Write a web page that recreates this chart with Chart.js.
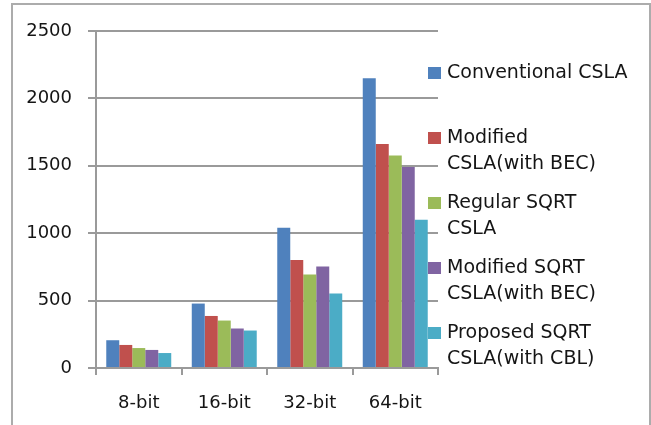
<!DOCTYPE html>
<html>
<head>
<meta charset="utf-8">
<script src="https://cdn.jsdelivr.net/npm/chart.js@4/dist/chart.umd.min.js"></script>
<style>
  html, body { margin: 0; padding: 0; background: #fff; }
  #wrap { position: relative; width: 651px; height: 425px; overflow: hidden; }
  #frame { position: absolute; left: 11px; top: 3px; width: 640px; height: 440px; border: 2px solid #acacac; box-sizing: border-box; }
  canvas { position: absolute; left: 0; top: 0; }
</style>
</head>
<body>
<div id="wrap">
  <div id="frame"></div>
  <canvas id="c" width="651" height="425"></canvas>
</div>
<script>
const categories = ['8-bit', '16-bit', '32-bit', '64-bit'];
const conventionalCSLA = [206, 478, 1040, 2149];
const modifiedCSLA = [171, 386, 802, 1661];
const regularSQRT = [148, 352, 693, 1577];
const modifiedSQRT = [134, 293, 753, 1492];
const proposedSQRT = [111, 278, 552, 1099];
const yTickValues = [0, 500, 1000, 1500, 2000, 2500];
const seriesNames = [
  ['Conventional CSLA'],
  ['Modified', 'CSLA(with BEC)'],
  ['Regular SQRT', 'CSLA'],
  ['Modified SQRT', 'CSLA(with BEC)'],
  ['Proposed SQRT', 'CSLA(with CBL)']
];
const colors = ['#4F81BD', '#C0504D', '#9BBB59', '#8064A2', '#4BACC6'];
const seriesData = [conventionalCSLA, modifiedCSLA, regularSQRT, modifiedSQRT, proposedSQRT];

const FONT = '"DejaVu Sans", sans-serif';
const TEXT = '#151515';
const GRID = '#9a9a9a';

const legendPlugin = {
  id: 'customLegend',
  afterDraw(chart) {
    const ctx = chart.ctx;
    ctx.save();
    ctx.font = '19px ' + FONT;
    ctx.textBaseline = 'middle';
    ctx.textAlign = 'left';
    const x0 = 428, tx = 447;
    const firstY = 73, itemGap = 65, lineGap = 26;
    chart.data.datasets.forEach((ds, i) => {
      const y = firstY + i * itemGap;
      ctx.fillStyle = ds.backgroundColor;
      ctx.fillRect(x0, y - 6, 13, 12);
      ctx.fillStyle = TEXT;
      ds.legendLines.forEach((ln, j) => ctx.fillText(ln, tx, y + j * lineGap));
    });
    ctx.restore();
  }
};

new Chart(document.getElementById('c'), {
  type: 'bar',
  data: {
    labels: categories,
    datasets: seriesData.map((d, i) => ({
      label: seriesNames[i].join(' '),
      legendLines: seriesNames[i],
      data: d,
      backgroundColor: colors[i],
      borderWidth: 0,
      categoryPercentage: 0.76,
      barPercentage: 1.0
    }))
  },
  options: {
    responsive: false,
    animation: false,
    devicePixelRatio: 1,
    layout: { padding: { left: 0, right: 213, top: 31, bottom: 0 } },
    plugins: { legend: { display: false }, tooltip: { enabled: false } },
    scales: {
      x: {
        afterFit: s => { s.height = 57; },
        grid: { display: true, drawOnChartArea: false, drawTicks: true, tickLength: 7, color: GRID, lineWidth: 2, offset: true },
        border: { display: true, color: GRID, width: 2 },
        ticks: { color: TEXT, font: { family: FONT, size: 18 }, padding: 18 }
      },
      y: {
        min: yTickValues[0], max: yTickValues[yTickValues.length - 1],
        afterFit: s => { s.width = 96; },
        afterBuildTicks: s => { s.ticks = yTickValues.map(v => ({ value: v })); },
        grid: { display: true, drawTicks: true, tickLength: 8, color: GRID, lineWidth: 2 },
        border: { display: true, color: GRID, width: 2 },
        ticks: { color: TEXT, font: { family: FONT, size: 18 }, padding: 16, callback: v => String(v) }
      }
    }
  },
  plugins: [legendPlugin]
});
</script>
</body>
</html>
